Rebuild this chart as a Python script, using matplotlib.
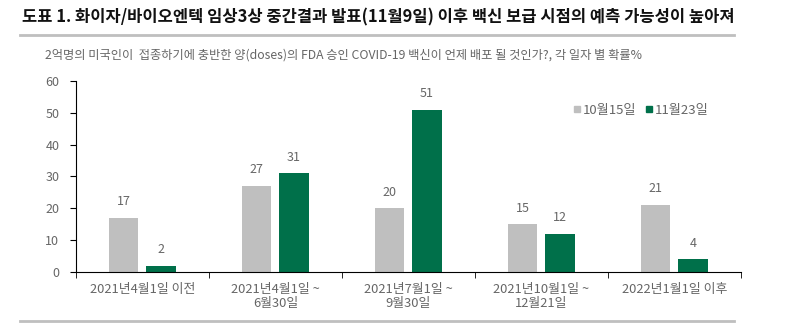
import matplotlib
matplotlib.use("Agg")
import matplotlib.pyplot as plt
import numpy as np
from matplotlib.lines import Line2D

plt.rcParams['font.family'] = ['Noto Sans CJK KR', 'DejaVu Sans']

periods = ['2021년4월1일 이전', '2021년4월1일 ~\n6월30일', '2021년7월1일 ~\n9월30일',
           '2021년10월1일 ~\n12월21일', '2022년1월1일 이후']
oct15 = [17, 27, 20, 15, 21]
nov23 = [2, 31, 51, 12, 4]
series_names = ['10월15일', '11월23일']

gray = '#BFBFBF'
green = '#00704A'
text_col = '#666666'

fig = plt.figure(figsize=(8, 3.25), dpi=100)
fig.patch.set_facecolor('white')

# title and rules
fig.text(0.028, 0.945, '도표 1. 화이자/바이오엔텍 임상3상 중간결과 발표(11월9일) 이후 백신 보급 시점의 예측 가능성이 높아져',
         fontsize=11.9, fontweight='bold', color='#111111', va='center', ha='left')
fig.add_artist(Line2D([0.025, 0.918], [0.893, 0.893], color='#BFBFBF', lw=2))
fig.add_artist(Line2D([0.025, 0.918], [0.012, 0.012], color='#BFBFBF', lw=2))
fig.text(0.056, 0.83, '2억명의 미국인이  접종하기에 충반한 양(doses)의 FDA 승인 COVID-19 백신이 언제 배포 될 것인가?, 각 일자 별 확률%',
         fontsize=8.8, color=text_col, va='center', ha='left')

ax = fig.add_axes([0.095, 0.163, 0.831, 0.588])
x = np.arange(len(periods))
w = 0.22
b1 = ax.bar(x - 0.14, oct15, w, color=gray)
b2 = ax.bar(x + 0.14, nov23, w, color=green)
for bars, vals in ((b1, oct15), (b2, nov23)):
    for r, v in zip(bars, vals):
        ax.annotate(str(v), (r.get_x() + r.get_width() / 2, v), xytext=(0, 7),
                    textcoords='offset points', ha='center', va='bottom',
                    fontsize=9, color=text_col)

ax.set_xlim(-0.5, len(periods) - 0.5)
ax.set_ylim(0, 60)
ax.set_yticks(range(0, 61, 10))
ax.set_xticks(x)
ax.set_xticklabels(periods, fontsize=9.3, color=text_col, linespacing=1.1)
ax.tick_params(axis='x', length=0, pad=8)
ax.set_xticks(np.arange(-0.5, len(periods)), minor=True)
ax.tick_params(axis='x', which='minor', length=4, direction='out', color='black')
ax.tick_params(axis='y', labelsize=9, labelcolor=text_col, length=4, direction='out', pad=8)
for s in ('top', 'right'):
    ax.spines[s].set_visible(False)
ax.spines['left'].set_color('black')
ax.spines['bottom'].set_color('black')

handles = [Line2D([], [], marker='s', ls='', color=gray, markersize=5),
           Line2D([], [], marker='s', ls='', color=green, markersize=5)]
ax.legend(handles, series_names, loc='center left', bbox_to_anchor=(0.745, 0.845), ncol=2,
          frameon=False, fontsize=9.5, labelcolor=text_col, handletextpad=0.05,
          columnspacing=0.6, handlelength=0.8, borderaxespad=0, borderpad=0)

fig.savefig('out.png', dpi=100)
